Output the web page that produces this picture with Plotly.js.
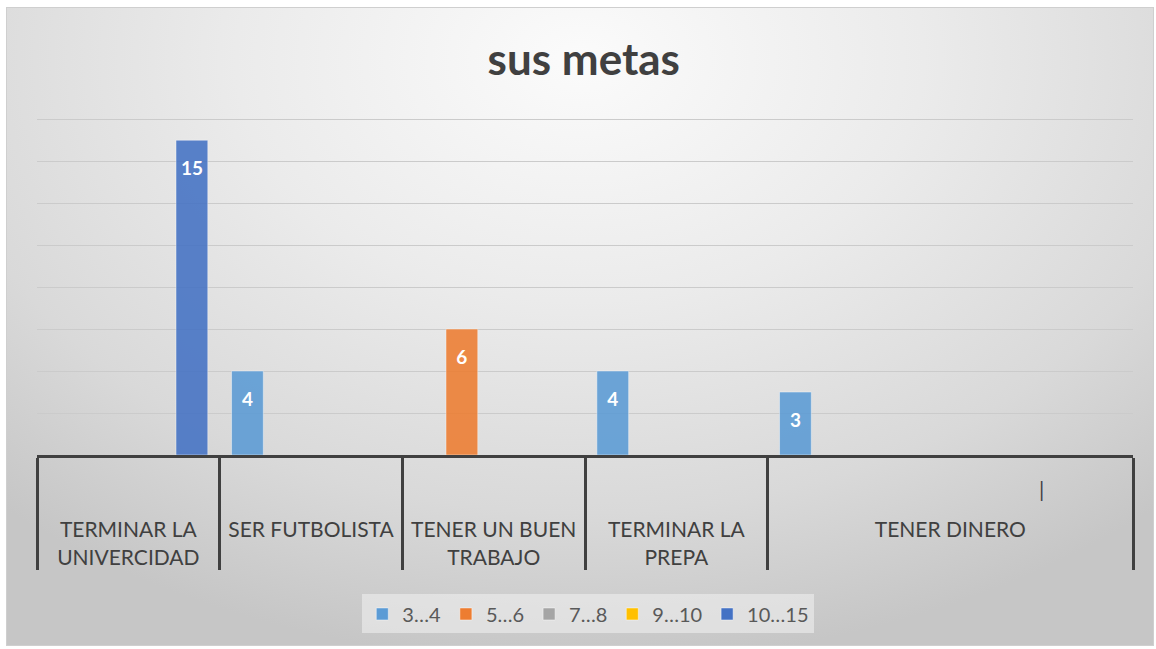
<!DOCTYPE html>
<html><head><meta charset="utf-8">
<script src="https://cdn.plot.ly/plotly-3.0.1.min.js"></script>
<style>
html,body{margin:0;padding:0;background:#fff;}
#bg{position:absolute;left:6px;top:7px;width:1146px;height:637px;border:1px solid #cfcfcf;background:radial-gradient(ellipse 75% 95% at 50% 8%, #fbfbfb 0%, #ebebeb 40%, #d9d9d9 75%, #c6c6c6 100%);}
#chart{position:absolute;left:0;top:0;width:1156px;height:649px;}
</style></head><body>
<div id="bg"></div><div id="chart"></div>
<script>
const goals = ["TERMINAR LA<br>UNIVERCIDAD","SER FUTBOLISTA","TENER UN BUEN<br>TRABAJO","TERMINAR LA<br>PREPA","TENER DINERO","TENER DINERO"];
const subLabels = [" ", " ", " ", " ", " ", "|"];
const seriesNames = ["3…4","5…6","7…8","9…10","10…15"];
const s3to4 = [null,4,null,4,3,null];
const s5to6 = [null,null,6,null,null,null];
const s7to8 = [null,null,null,null,null,null];
const s9to10 = [null,null,null,null,null,null];
const s10to15 = [15,null,null,null,null,null];
const seriesColors = ["#5B9BD5","#ED7D31","#A5A5A5","#FFC000","#4472C4"];
const seriesValues = [s3to4,s5to6,s7to8,s9to10,s10to15];

const FONT = "Lato, 'Open Sans', sans-serif";
// inner level gets a second blank line so the outer level sits lower, as in the reference
const innerLabels = subLabels.map(s => s + '<br>&nbsp;');

const traces = seriesValues.map((vals,i)=>({
  type:'bar',
  name: seriesNames[i],
  x:[goals, innerLabels],
  y: vals,
  marker:{color: seriesColors[i], opacity:0.88, line:{color:'rgba(255,255,255,0.45)', width:1}},
  texttemplate:'&nbsp;<br><b><span style="font-size:19px">%{y}</span></b>',
  textposition:'inside',
  insidetextanchor:'end',
  constraintext:'none',
  textfont:{family:FONT, size:14, color:'#ffffff'},
  hoverinfo:'x+y+name'
}));

const layout = {
  width:1156, height:649,
  paper_bgcolor:'rgba(0,0,0,0)', plot_bgcolor:'rgba(0,0,0,0)',
  margin:{l:37, r:23, t:115, b:194},
  font:{family:FONT, color:'#404040'},
  title:{text:'<b>sus metas</b>', font:{family:FONT, size:44, color:'#404040'}, x:0.505, xanchor:'center', y:0.9075, yanchor:'middle'},
  barmode:'group', bargap:0.13, bargroupgap:0,
  xaxis:{type:'multicategory', showline:true, linecolor:'#404040', linewidth:3, ticks:'', showgrid:false,
         ticklabelstandoff:14,
         tickfont:{family:FONT, size:21, color:'#404040'}, showdividers:true, dividercolor:'#404040', dividerwidth:3},
  yaxis:{range:[0,16.2], dtick:2, showticklabels:false, gridcolor:'#cbcbcb', gridwidth:1, zeroline:false, showline:false},
  legend:{orientation:'h', x:0.503, xanchor:'center', yref:'container', y:0.054, yanchor:'middle',
          bgcolor:'rgba(242,242,242,0.55)', font:{family:FONT, size:20, color:'#595959'}},
  showlegend:true
};
Plotly.newPlot('chart', traces, layout, {displayModeBar:false, staticPlot:true});
</script>
</body></html>
